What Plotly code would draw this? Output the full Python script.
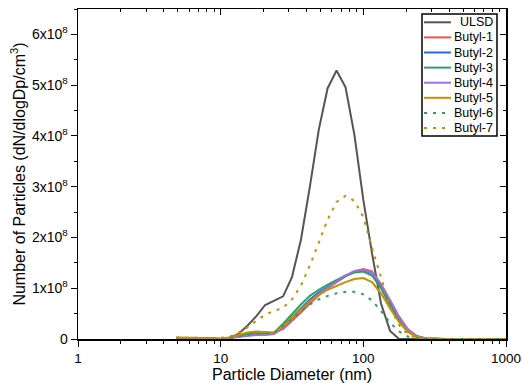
import plotly.graph_objects as go

diam = [4.87, 5.62, 6.49, 7.50, 8.66, 10.0, 11.5, 13.3, 15.4, 17.8, 20.5, 23.7, 27.4,
        31.6, 36.5, 42.2, 48.7, 56.2, 64.9, 75.0, 86.6, 100, 115, 133, 154, 178, 205,
        237, 274, 316, 365, 422, 487, 562, 649, 750, 866, 1000]

ulsd   = [0.01, 0.01, 0.01, 0.005, 0.0, 0.0, 0.02, 0.10, 0.26, 0.45, 0.67, 0.76, 0.84,
          1.22, 1.95, 3.00, 4.12, 4.94, 5.29, 4.96, 4.02, 2.74, 1.69, 0.70, 0.16, 0.0, 0.0,
          0, 0, 0, 0, 0, 0, 0, 0, 0, 0, 0]
butyl1 = [0.02, 0.02, 0.02, 0.01, 0.01, 0.0, 0.02, 0.06, 0.10, 0.12, 0.12, 0.12, 0.20,
          0.35, 0.52, 0.70, 0.86, 1.00, 1.12, 1.24, 1.33, 1.38, 1.33, 1.08, 0.76, 0.44, 0.19,
          0.06, 0.01, 0, 0, 0, 0, 0, 0, 0, 0, 0]
butyl2 = [0.02, 0.02, 0.02, 0.01, 0.01, 0.0, 0.02, 0.05, 0.09, 0.10, 0.10, 0.12, 0.25,
          0.42, 0.60, 0.78, 0.92, 1.03, 1.13, 1.24, 1.32, 1.36, 1.30, 1.05, 0.72, 0.40, 0.17,
          0.05, 0.01, 0, 0, 0, 0, 0, 0, 0, 0, 0]
butyl3 = [0.02, 0.02, 0.02, 0.01, 0.01, 0.0, 0.02, 0.06, 0.10, 0.12, 0.12, 0.13, 0.30,
          0.50, 0.68, 0.85, 0.97, 1.07, 1.16, 1.25, 1.31, 1.33, 1.25, 1.00, 0.66, 0.36, 0.15,
          0.04, 0.01, 0, 0, 0, 0, 0, 0, 0, 0, 0]
butyl4 = [0.02, 0.02, 0.02, 0.01, 0.01, 0.0, 0.02, 0.04, 0.06, 0.08, 0.08, 0.10, 0.22,
          0.38, 0.56, 0.74, 0.89, 1.01, 1.13, 1.25, 1.34, 1.37, 1.31, 1.08, 0.76, 0.43, 0.19,
          0.06, 0.01, 0, 0, 0, 0, 0, 0, 0, 0, 0]
butyl5 = [0.03, 0.03, 0.03, 0.02, 0.01, 0.01, 0.03, 0.08, 0.13, 0.15, 0.14, 0.13, 0.25,
          0.42, 0.58, 0.74, 0.87, 0.97, 1.05, 1.12, 1.18, 1.20, 1.12, 0.90, 0.60, 0.33, 0.14,
          0.04, 0.01, 0, 0, 0, 0, 0, 0, 0, 0, 0]
butyl6 = [0.02, 0.02, 0.02, 0.01, 0.01, 0.01, 0.02, 0.05, 0.08, 0.10, 0.10, 0.12, 0.25,
          0.40, 0.55, 0.68, 0.78, 0.85, 0.90, 0.93, 0.93, 0.88, 0.76, 0.55, 0.32, 0.15, 0.05,
          0.01, 0.0, 0, 0, 0, 0, 0, 0, 0, 0, 0]
butyl7 = [0.03, 0.03, 0.03, 0.02, 0.01, 0.02, 0.04, 0.12, 0.23, 0.36, 0.48, 0.55, 0.62,
          0.78, 1.05, 1.45, 1.92, 2.35, 2.70, 2.82, 2.72, 2.40, 1.80, 1.20, 0.63, 0.27, 0.09,
          0.02, 0.0, 0, 0, 0, 0, 0, 0, 0, 0, 0]

names = ["ULSD", "Butyl-1", "Butyl-2", "Butyl-3", "Butyl-4", "Butyl-5", "Butyl-6", "Butyl-7"]
series = [ulsd, butyl1, butyl2, butyl3, butyl4, butyl5, butyl6, butyl7]
colors = ["#555555", "#f05050", "#2070e0", "#30a060", "#a070e0", "#c89000", "#30a060", "#c89000"]
dashes = ["solid", "solid", "solid", "solid", "solid", "solid", "3px,6px", "3px,6px"]

ytick_vals = [0, 1e8, 2e8, 3e8, 4e8, 5e8, 6e8]
ytick_text = ["0", "1x10<sup>8</sup>", "2x10<sup>8</sup>", "3x10<sup>8</sup>",
              "4x10<sup>8</sup>", "5x10<sup>8</sup>", "6x10<sup>8</sup>"]

fig = go.Figure()
for i in range(len(names)):
    fig.add_trace(go.Scatter(
        x=diam, y=[v * 1e8 for v in series[i]], mode="lines", name=names[i],
        line=dict(color=colors[i], width=2, dash=dashes[i]), showlegend=False,
    ))

fig.add_trace(go.Scatter(x=[1, 1000], y=[0, 0], xaxis="x2", yaxis="y2",
                         mode="lines", line=dict(width=0), showlegend=False, hoverinfo="skip"))

# Legend drawn as a compact box (paper coordinates relative to plot area)
L = dict(left=78, right=506, top=9, bottom=339)
def px(xp):
    return (xp - L["left"]) / (L["right"] - L["left"])
def py(yp):
    return (L["bottom"] - yp) / (L["bottom"] - L["top"])

shapes = [dict(type="rect", xref="paper", yref="paper",
               x0=px(422), x1=px(497), y0=py(136), y1=py(14),
               line=dict(color="#000", width=1.5), fillcolor="white", layer="above")]
annotations = []
for i, nm in enumerate(names):
    yc = 22.3 + i * 15.1
    shapes.append(dict(type="line", xref="paper", yref="paper",
                       x0=px(424), x1=px(451), y0=py(yc), y1=py(yc),
                       line=dict(color=colors[i], width=2, dash=dashes[i]), layer="above"))
    annotations.append(dict(xref="paper", yref="paper", x=px(495), y=py(yc),
                            xanchor="right", yanchor="middle", text=nm, showarrow=False,
                            font=dict(size=12.5, color="#000")))

font = "Liberation Sans, Arial, Helvetica, sans-serif"
fig.update_layout(
    width=522, height=383,
    margin=dict(l=78, r=16, t=9, b=44),
    paper_bgcolor="white", plot_bgcolor="white",
    font=dict(family=font, size=13, color="#000"),
    showlegend=False, hovermode=False,
    shapes=shapes, annotations=annotations,
    xaxis=dict(type="log", range=[0, 3], showgrid=False, zeroline=False, automargin=False,
               showline=True, linecolor="#000", linewidth=1.5,
               ticks="outside", ticklen=6, tickwidth=1, tickcolor="#000",
               tickvals=[1, 10, 100, 1000], ticktext=["1", "10", "100", "1000"],
               minor=dict(ticks="outside", ticklen=3, tickcolor="#000", dtick="D1", showgrid=False),
               title=dict(text="Particle Diameter (nm)", font=dict(size=16), standoff=2),
               tickfont=dict(size=13.5)),
    yaxis=dict(range=[0, 6.5e8], showgrid=False, zeroline=False, automargin=False,
               showline=True, linecolor="#000", linewidth=1.5,
               ticks="outside", ticklen=6, tickwidth=1, tickcolor="#000",
               tickvals=ytick_vals, ticktext=ytick_text,
               minor=dict(ticks="outside", ticklen=3, tickcolor="#000", dtick=5e7, showgrid=False),
               title=dict(text="Number of Particles (dN/dlogDp/cm<sup>3</sup>)", font=dict(size=16), standoff=2),
               tickfont=dict(size=14)),
    xaxis2=dict(type="log", range=[0, 3], overlaying="x", side="top", anchor="y", automargin=False,
                showgrid=False, zeroline=False, showline=True, linecolor="#000", linewidth=1.5,
                ticks="inside", ticklen=6, tickcolor="#000", tickvals=[1, 10, 100, 1000],
                showticklabels=False,
                minor=dict(ticks="inside", ticklen=3, tickcolor="#000", dtick="D1", showgrid=False)),
    yaxis2=dict(range=[0, 6.5e8], overlaying="y", side="right", anchor="x", automargin=False,
                showgrid=False, zeroline=False, showline=True, linecolor="#000", linewidth=1.5,
                ticks="inside", ticklen=6, tickcolor="#000", tickvals=ytick_vals,
                showticklabels=False,
                minor=dict(ticks="inside", ticklen=3, tickcolor="#000", dtick=5e7, showgrid=False)),
)

fig.write_html("out.html", config={"displayModeBar": False, "staticPlot": True},
               post_script="document.body.style.margin='0';document.body.style.overflow='hidden';")
